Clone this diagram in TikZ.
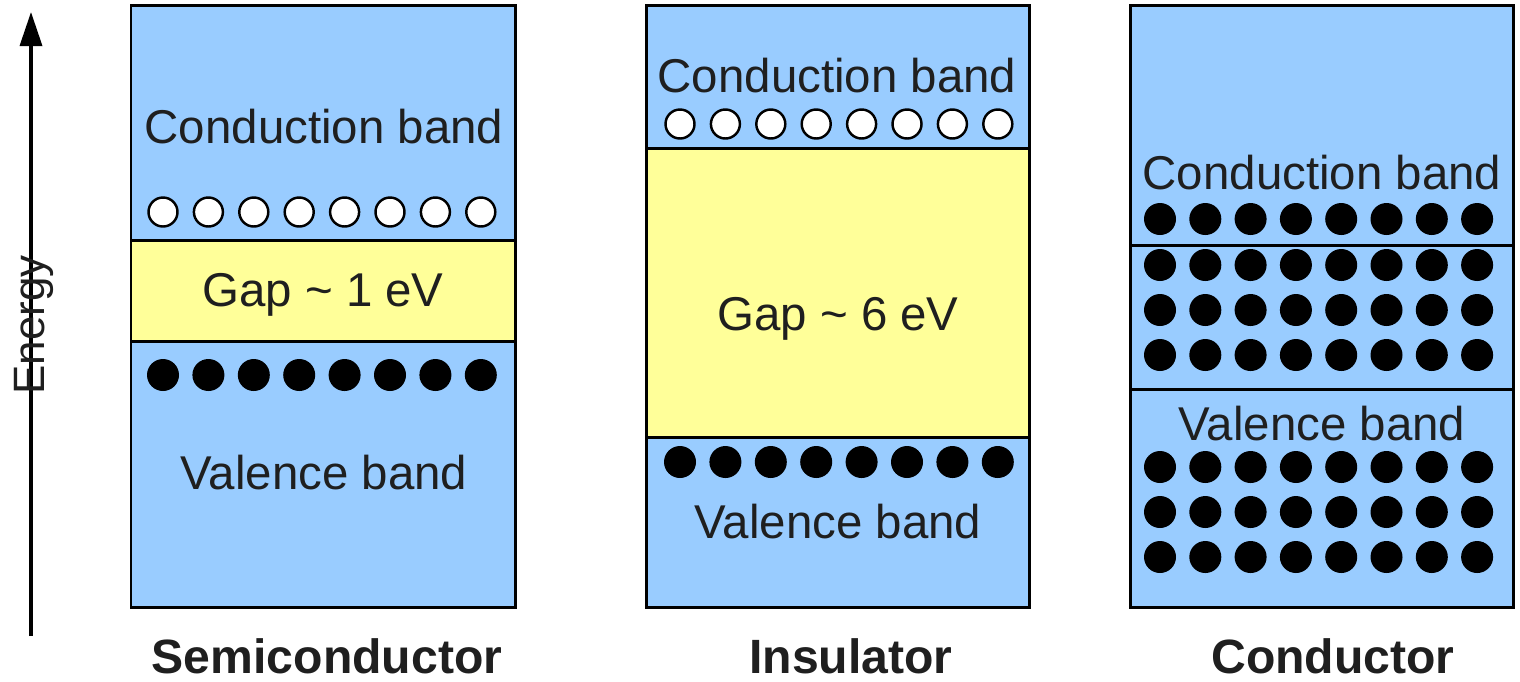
\documentclass[tikz,border=0pt]{standalone}
\usepackage{fontspec}
\setmainfont{Liberation Sans}
\usepackage{xcolor}
\usetikzlibrary{arrows.meta}

\definecolor{bandblue}{RGB}{153,204,255}
\definecolor{gapyellow}{RGB}{255,255,153}

\tikzset{
  band/.style={draw=black, fill=bandblue, line width=1.7pt},
  gapband/.style={draw=black, fill=gapyellow, line width=1.7pt},
  hole/.style={draw=black, fill=white, line width=1.4pt},
  electron/.style={fill=black},
  bandlabel/.style={anchor=base, text=black!88, font=\fontsize{27}{32}\selectfont},
  material/.style={anchor=base, text=black!88, font=\fontsize{27.4}{32}\selectfont\bfseries},
}

\begin{document}
\begin{tikzpicture}[x=0.02cm, y=-0.02cm]
  \useasboundingbox (0,0) rectangle (1520,681);

  % Energy axis
  \coordinate (elow) at (31,636);
  \coordinate (ehigh) at (31,12);
  \draw[line width=2pt, -{Triangle[length=0.68cm, width=0.44cm]}] (elow) -- (ehigh);
  \node[rotate=90, anchor=base, text=black!88, font=\fontsize{25}{30}\selectfont] (energy) at (44,325) {Energy};

  % Semiconductor
  \draw[band] (131,5) rectangle (515,240);
  \draw[gapband] (131,240) rectangle (515,341);
  \draw[band] (131,341) rectangle (515,607);
  \foreach \i in {0,...,7} \draw[hole] (163+45.4*\i,212) circle (14.5);
  \foreach \i in {0,...,7} \fill[electron] (163+45.4*\i,375) circle (16);
  \node[bandlabel] (semicb) at (324,143) {Conduction band};
  \node[bandlabel] (semigap) at (323,306) {Gap \textasciitilde{} 1 eV};
  \node[bandlabel] (semivb) at (324,489) {Valence band};
  \node[material] (semi) at (327,673) {Semiconductor};

  % Insulator
  \draw[band] (646,5) rectangle (1029,148);
  \draw[gapband] (646,148) rectangle (1029,437);
  \draw[band] (646,437) rectangle (1029,607);
  \foreach \i in {0,...,7} \draw[hole] (680+45.4*\i,124) circle (14.5);
  \foreach \i in {0,...,7} \fill[electron] (680+45.4*\i,462) circle (16);
  \node[bandlabel] (inscb) at (837,92) {Conduction band};
  \node[bandlabel] (insgap) at (838,330) {Gap \textasciitilde{} 6 eV};
  \node[bandlabel] (insvb) at (838,538) {Valence band};
  \node[material] (ins) at (851,673) {Insulator};

  % Conductor
  \draw[band] (1130,5) rectangle (1513,245);
  \draw[band] (1130,245) rectangle (1513,389);
  \draw[band] (1130,389) rectangle (1513,607);
  \foreach \row in {219,265,310,355,467,512,557}
    \foreach \i in {0,...,7} \fill[electron] (1160+45.3*\i,\row) circle (16);
  \node[bandlabel] (condcb) at (1322,189) {Conduction band};
  \node[bandlabel] (condvb) at (1322,440) {Valence band};
  \node[material] (cond) at (1333,673) {Conductor};
\end{tikzpicture}
\end{document}
